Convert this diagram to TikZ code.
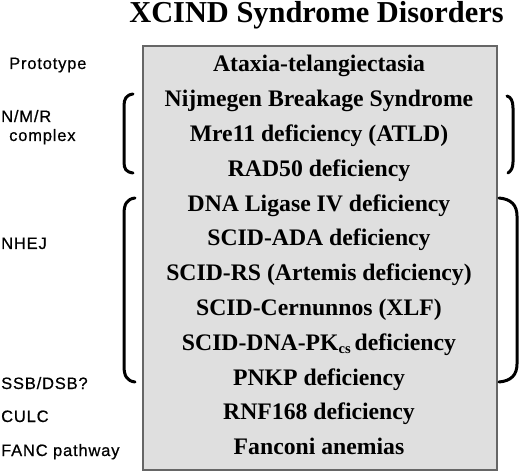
\documentclass[tikz,border=0pt]{standalone}
\usepackage{fontspec}
\setmainfont{Liberation Serif}
\newfontfamily\lblfont[LetterSpace=5,FakeBold=0.6]{Liberation Sans}
\begin{document}
\begin{tikzpicture}[x=1pt,y=-1pt,
  rowtext/.style={anchor=base,inner sep=0pt,font=\fontsize{23.7}{23.7}\selectfont\bfseries},
  lbltext/.style={anchor=base west,inner sep=0pt,font=\lblfont\fontsize{16.5}{16.5}\selectfont},
  brk/.style={line width=3pt,line cap=round}]
\useasboundingbox (0,0) rectangle (520,473);
\node[anchor=base,inner sep=0pt,font=\fontsize{30.4}{30.4}\selectfont\bfseries] (title) at (316.5,23) {XCIND Syndrome Disorders};
\draw[fill=gray!25,draw=black!60,line width=1.6pt] (143,46) rectangle (497,470);
\foreach \i/\t in {0/Ataxia-telangiectasia,1/Nijmegen Breakage Syndrome,2/Mre11 deficiency (ATLD),3/RAD50 deficiency,4/DNA Ligase IV deficiency,5/SCID-ADA deficiency,6/SCID-RS (Artemis deficiency),7/SCID-Cernunnos (XLF),8/{SCID-DNA-PK\raisebox{-3pt}{\fontsize{14.5}{14.5}\selectfont cs}\,deficiency},9/PNKP deficiency,10/RNF168 deficiency,11/Fanconi anemias}
  \node[rowtext] (r\i) at (319,72+34.8*\i) {\t};
\node[lbltext] (lproto) at (9,69) {Prototype};
\node[lbltext] (lnmr) at (1,122) {N/M/R};
\node[lbltext] (lcomplex) at (9,141) {complex};
\node[lbltext] (lnhej) at (1,249) {NHEJ};
\node[lbltext] (lssb) at (1,389) {SSB/DSB?};
\node[lbltext] (lculc) at (1,422) {CULC};
\node[lbltext] (lfanc) at (1,456) {FANC pathway};
% brackets
\draw[brk] (133,94) .. controls (126,95) and (124,99) .. (124,106) -- (124,162) .. controls (124,169) and (126,172) .. (133,173);
\draw[brk] (507,96) .. controls (511,97) and (513,101) .. (513,108) -- (513,162) .. controls (513,168) and (511,171) .. (508,173);
\draw[brk] (135,198) .. controls (127,199) and (124,204) .. (124,214) -- (124,366) .. controls (124,376) and (127,381) .. (135,382);
\draw[brk] (499,198) .. controls (511,199) and (517,205) .. (517,216) -- (517,364) .. controls (517,375) and (511,381) .. (499,382);
\end{tikzpicture}
\end{document}
